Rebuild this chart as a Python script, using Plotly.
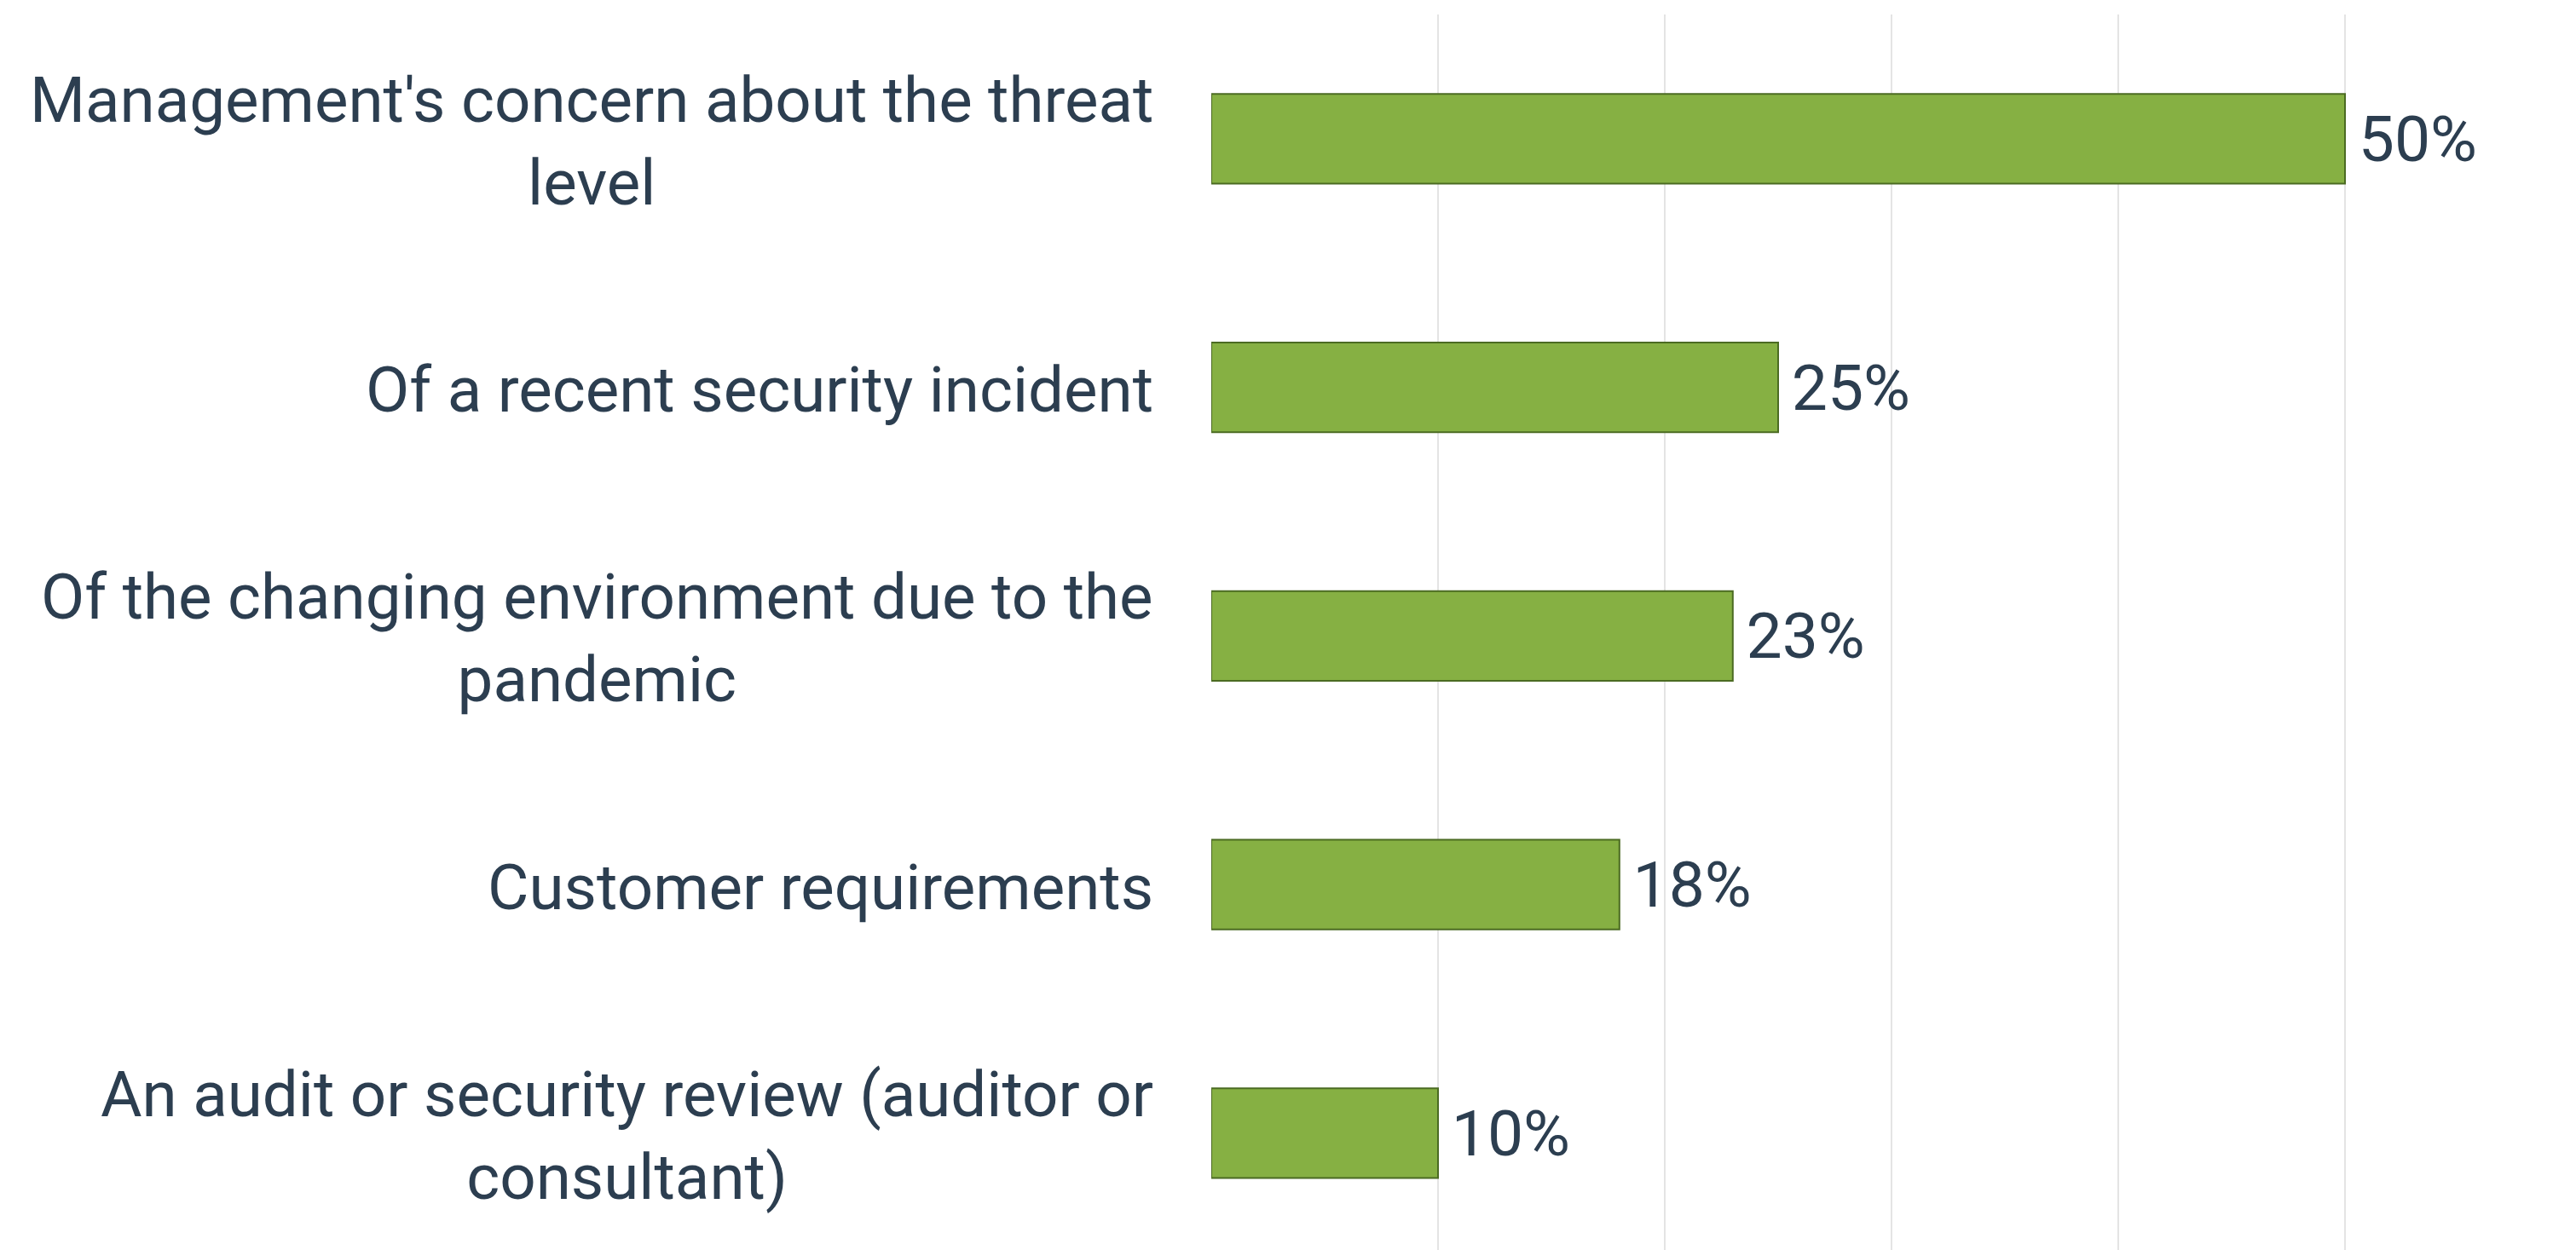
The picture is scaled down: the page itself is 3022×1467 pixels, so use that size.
import plotly.graph_objects as go

categories = [
    "Management's concern about the threat<br>level",
    "Of a recent security incident",
    "Of the changing environment due to the<br>pandemic",
    "Customer requirements",
    "An audit or security review (auditor or<br>consultant)",
]
values = [50, 25, 23, 18, 10]
value_labels = ["50%", "25%", "23%", "18%", "10%"]

text_color = "#2c3e50"
font_family = "Roboto, Arial, sans-serif"

fig = go.Figure()
fig.add_trace(go.Bar(
    y=categories,
    x=values,
    orientation="h",
    marker=dict(color="#86b043", line=dict(color="#4b6b22", width=2)),
    text=value_labels,
    texttemplate="\u2006%{text}",
    textposition="outside",
    textfont=dict(family=font_family, size=75, color=text_color),
    cliponaxis=False,
    width=0.36,
))

annotations = []
for cat in categories:
    annotations.append(dict(
        x=0, y=cat, xref="x", yref="y",
        text=cat, showarrow=False, xanchor="right", yanchor="middle",
        align="center", xshift=-66, yshift=-3,
        font=dict(family=font_family, size=74.5, color=text_color),
    ))

fig.update_layout(
    width=3022, height=1467,
    margin=dict(l=1421, r=5, t=17, b=0),
    paper_bgcolor="white", plot_bgcolor="white",
    showlegend=False,
    annotations=annotations,
    xaxis=dict(range=[0, 60], dtick=10, showgrid=True, gridcolor="#e4e4e4",
               gridwidth=2, showticklabels=False, zeroline=False, showline=False,
               fixedrange=True),
    yaxis=dict(range=[4.47, -0.5], showticklabels=False, showgrid=False,
               zeroline=False, showline=False, categoryorder="array",
               categoryarray=categories),
)

fig.write_html("out.html")
